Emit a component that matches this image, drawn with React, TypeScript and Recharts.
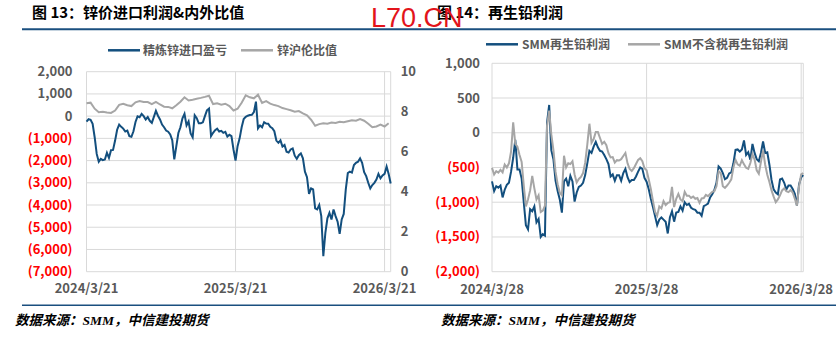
import { LineChart, Line, XAxis, YAxis, CartesianGrid } from 'recharts'

const BLUE = '#134F7E'
const GREY = '#A6A6A6'
const FONT = "'Noto Sans CJK SC', 'Liberation Sans', sans-serif"

// x-axis labels (days 0 / 365 / 730 from the first point)
const zincDates = ['2024/3/21', '2025/3/21', '2026/3/21']
const leadDates = ['2024/3/28', '2025/3/28', '2026/3/28']
const dateTicks = [0, 365, 730]

const profitTicks = [2000, 1000, 0, -1000, -2000, -3000, -4000, -5000, -6000, -7000]
const ratioTicks = [0, 2, 4, 6, 8, 10]
const leadTicks = [1000, 500, 0, -500, -1000, -1500, -2000]

// 精炼锌进口盈亏 (元/吨), one value every 5 days
const zincProfit = [
  -250, -140, -170, -350, -950, -1700, -2050, -1920, -1980, -1950,
  -1650, -1880, -1530, -1520, -1100, -610, -380, -480, -560, -690,
  -650, -900, -930, -680, -260, -10, -50, 100, 0, -150,
  -40, -210, -300, -30, 240, 20, -150, -380, -500, -650,
  -700, -820, -1080, -1950, -1350, -760, -500, -100, 100, -420,
  -240, -780, -950, 40, -90, -320, -320, -280, 0, 260,
  340, -900, -750, -630, -560, -690, -660, -750, -710, -920,
  -840, -900, -1500, -2000, -1350, -1000, -500, -130, -30, 20,
  50, 60, 180, 650, -550, -420, -500, -270, -330, -340,
  -480, -540, -680, -1100, -1200, -1090, -1370, -1300, -1600, -1640,
  -1500, -1450, -1780, -1920, -1760, -1680, -1900, -2500, -2750, -3500,
  -3250, -3300, -4150, -4200, -4000, -4500, -6300, -5250, -4600, -4350,
  -4650, -4200, -4500, -4750, -5300, -4650, -4400, -3300, -2560, -2500,
  -2540, -2200, -2100, -2050, -1900, -2100, -2520, -2700, -3000, -3250,
  -3100, -3000, -2850, -2600, -2800, -2670, -2600, -2270, -2600, -3030,
]

// 锌沪伦比值, one value every 10 days
const zincRatio = [
  8.42, 8.45, 8.15, 7.97, 8.0, 7.96, 7.94, 8.06, 8.34, 8.4,
  8.32, 8.28, 8.47, 8.53, 8.48, 8.48, 8.38, 8.49, 8.36, 8.25,
  8.24, 8.17, 8.32, 8.5, 8.72, 8.56, 8.6, 8.65, 8.69, 8.74,
  8.8, 8.38, 8.42, 8.35, 8.4, 8.28, 8.06, 8.15, 8.45, 8.82,
  8.72, 8.67, 8.85, 8.44, 8.53, 8.4, 8.33, 8.28, 8.18, 8.13,
  8.07, 8.0, 8.03, 7.92, 7.82, 7.6, 7.3, 7.38, 7.42, 7.4,
  7.46, 7.44, 7.5, 7.47, 7.52, 7.57, 7.55, 7.63, 7.55, 7.4,
  7.22, 7.26, 7.35, 7.26, 7.42,
]

// SMM再生铅利润, one value every 5 days
const leadProfit = [
  -700, -840, -770, -790, -760, -930, -820, -750, -720, -560,
  -360, -100, -530, -530, -660, -1000, -1330, -1390, -1100, -1130,
  -1060, -1290, -1240, -1500, -1460, -1480, 150, 400, -250, -380,
  -690, -840, -960, -1150, -700, -660, -770, -620, -700, -990,
  -860, -780, -760, -720, -610, -440, -260, -290, -200, -130,
  -210, -260, -270, -320, -380, -450, -630, -600, -690, -610,
  -610, -690, -580, -520, -640, -710, -680, -680, -630, -560,
  -500, -520, -650, -705, -810, -950, -1070, -1200, -1330, -1250,
  -1220, -1250, -1280, -1450, -1220, -1130, -1280, -1150, -1140, -1060,
  -1120, -1000, -1040, -1020, -1080, -1100, -1110, -1150, -1150, -1195,
  -1058, -1040, -1020, -930, -885, -825, -720, -485, -515, -580,
  -670, -650, -585, -570, -440, -245, -240, -270, -240, -110,
  -320, -280, -390, -160, -290, -380, -410, -290, -125, -290,
  -280, -460, -680, -815, -860, -885, -673, -660, -720, -815,
  -760, -760, -810, -880, -1050, -740, -640, -610,
]

// SMM不含税再生铅利润, one value every 5 days
const leadProfitExTax = [
  -505, -600, -553, -575, -535, -570, -457, -500, -440, -270,
  150, -160, -200, -320, -420, -760, -1060, -960, -830, -620,
  -800, -960, -900, -1140, -1120, -1050, 100, 320, -20, -250,
  -560, -740, -860, -900, -330, -500, -440, -450, -410, -600,
  -715, -665, -635, -580, -430, -170, 130, -144, -90, 10,
  10, -75, -160, -130, -180, -295, -355, -350, -430, -395,
  -400, -380, -335, -290, -440, -520, -550, -510, -450, -390,
  -365, -410, -510, -540, -670, -810, -980, -1140, -1195, -1060,
  -1090, -985, -1040, -1010, -1000, -780, -1070, -950, -880, -960,
  -985, -850, -905, -905, -937, -918, -950, -940, -1010, -945,
  -940, -895, -913, -880, -850, -841, -770, -555, -580, -770,
  -793, -760, -720, -670, -500, -390, -455, -475, -395, -455,
  -505, -520, -435, -310, -385, -540, -590, -420, -255, -460,
  -605, -710, -830, -920, -1000, -960, -900, -830, -800, -842,
  -855, -825, -860, -950, -1050, -770, -600, -580,
]

const toRows = (vals: number[], step: number) => vals.map((v, i) => ({ d: i * step, v }))

const zincRows = toRows(zincProfit, 5)
const ratioRows = toRows(zincRatio, 10)
const leadRows = toRows(leadProfit, 5)
const leadExRows = toRows(leadProfitExTax, 5)

function fmtMoney(v: number) {
  const s = Math.abs(v).toLocaleString('en-US')
  return v < 0 ? `(${s})` : s
}

// 负数红色括号
function MoneyTick(props: any) {
  const { x, y, payload } = props
  const v = payload.value
  return (
    <text x={x} y={y} dy={4.5} textAnchor="end" fontFamily={FONT} fontSize={13}
      fontWeight={700} fill={v < 0 ? '#FF0000' : '#595959'}>
      {fmtMoney(v)}
    </text>
  )
}

const tickStyle = { fill: '#595959', fontSize: 13, fontWeight: 700, fontFamily: FONT }

function ZincChart() {
  return (
    <LineChart width={420} height={301.7} margin={{ top: 71.7, right: 0, bottom: 0, left: 0 }}>
      <CartesianGrid stroke="#D9D9D9" yAxisId="l" />
      <XAxis type="number" dataKey="d" domain={[0, 745]} ticks={dateTicks} interval={0}
        tickFormatter={(d: number) => zincDates[dateTicks.indexOf(d)]}
        axisLine={false} tickLine={false} tickMargin={6} height={30} tick={tickStyle} />
      <YAxis yAxisId="l" domain={[-7000, 2000]} ticks={profitTicks} interval={0} width={86.5}
        axisLine={false} tickLine={false} tickMargin={8} tick={<MoneyTick />} />
      <YAxis yAxisId="r" orientation="right" domain={[0, 10]} ticks={ratioTicks} interval={0} width={29.3}
        axisLine={false} tickLine={false} tickMargin={4} tick={tickStyle} />
      <Line yAxisId="l" data={zincRows} dataKey="v" stroke={BLUE} strokeWidth={2} dot={false}
        isAnimationActive={false} />
      <Line yAxisId="r" data={ratioRows} dataKey="v" stroke={GREY} strokeWidth={2} dot={false}
        isAnimationActive={false} />
    </LineChart>
  )
}

function LeadChart() {
  return (
    <LineChart width={416} height={301.7} margin={{ top: 63.3, right: 32.7, bottom: 0, left: 0 }}>
      <CartesianGrid stroke="#D9D9D9" />
      <XAxis type="number" dataKey="d" domain={[0, 735]} ticks={dateTicks} interval={0}
        tickFormatter={(d: number) => leadDates[dateTicks.indexOf(d)]}
        axisLine={false} tickLine={false} tickMargin={7} height={30} tick={tickStyle} />
      <YAxis domain={[-2000, 1000]} ticks={leadTicks} interval={0} width={72}
        axisLine={false} tickLine={false} tickMargin={6} tick={<MoneyTick />} />
      <Line data={leadRows} dataKey="v" stroke={BLUE} strokeWidth={2} dot={false}
        isAnimationActive={false} />
      <Line data={leadExRows} dataKey="v" stroke={GREY} strokeWidth={2} dot={false}
        isAnimationActive={false} />
    </LineChart>
  )
}

export default function App() {
  const legendText = { fontFamily: FONT, fontSize: 12, fontWeight: 700, fill: '#595959' }
  return (
    <div style={{ position: 'absolute', left: 0, top: 0, width: 836, height: 346, background: '#fff' }}>
      <div style={{ position: 'absolute', left: 0, top: 0 }}>
        <ZincChart />
      </div>
      <div style={{ position: 'absolute', left: 420, top: 0 }}>
        <LeadChart />
      </div>

      {/* 标题、图例、来源 */}
      <svg width={836} height={346} style={{ position: 'absolute', left: 0, top: 0, pointerEvents: 'none' }}>
        <text x={32} y={18} fontFamily={FONT} fontSize={15} fontWeight={700} fill="#000">图 13：锌价进口利润&amp;内外比值</text>
        <text x={437} y={18} fontFamily={FONT} fontSize={15} fontWeight={700} fill="#000">图 14：再生铅利润</text>
        <line x1={22} x2={836} y1={29.3} y2={29.3} stroke="#1A4F7F" strokeWidth={2} />

        <line x1={108} x2={140} y1={50.3} y2={50.3} stroke={BLUE} strokeWidth={2.5} />
        <text x={143} y={54.8} {...legendText}>精炼锌进口盈亏</text>
        <line x1={241} x2={273} y1={50.3} y2={50.3} stroke={GREY} strokeWidth={2.5} />
        <text x={277} y={54.8} {...legendText}>锌沪伦比值</text>

        <line x1={486} x2={518} y1={44.3} y2={44.3} stroke={BLUE} strokeWidth={2.5} />
        <text x={522} y={48.8} {...legendText}>SMM再生铅利润</text>
        <line x1={628} x2={660} y1={44.3} y2={44.3} stroke={GREY} strokeWidth={2.5} />
        <text x={664} y={48.8} {...legendText}>SMM不含税再生铅利润</text>

        <line x1={22} x2={836} y1={305.3} y2={305.3} stroke="#1A4F7F" strokeWidth={1.5} />
        <text x={15} y={324.5} fontFamily={"'Liberation Serif', 'Noto Sans CJK SC', serif"} fontSize={13.5}
          fontWeight={700} fontStyle="italic" fill="#000">数据来源：SMM，中信建投期货</text>
        <text x={441} y={324.5} fontFamily={"'Liberation Serif', 'Noto Sans CJK SC', serif"} fontSize={13.5}
          fontWeight={700} fontStyle="italic" fill="#000">数据来源：SMM，中信建投期货</text>

        <text x={371} y={26.6} fontFamily="'Liberation Sans', Arial, sans-serif" fontSize={27} fill="#E3141B">L70.CN</text>
      </svg>
    </div>
  )
}
